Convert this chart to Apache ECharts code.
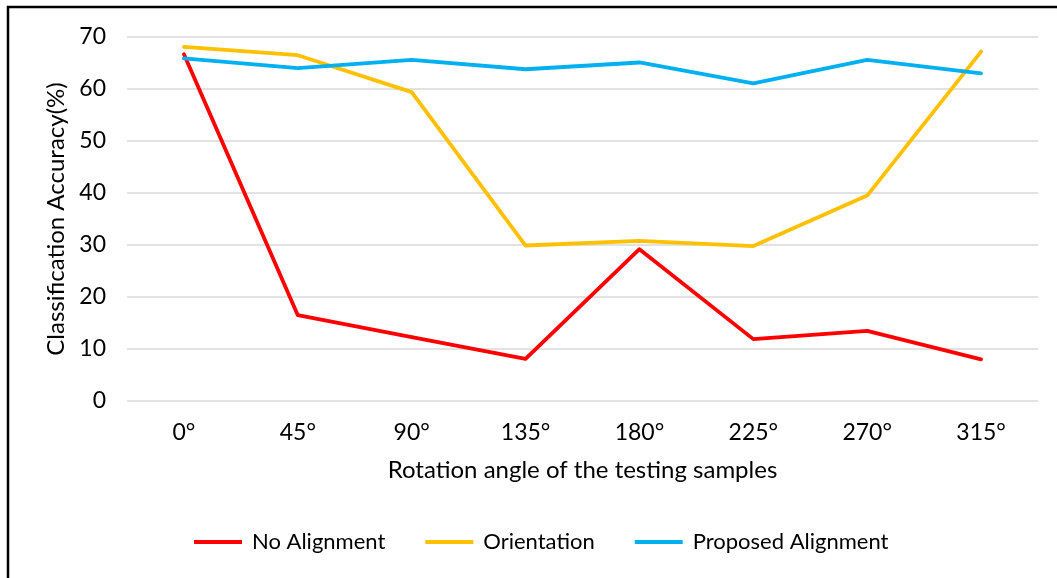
<!DOCTYPE html>
<html><head><meta charset="utf-8">
<script src="https://cdn.jsdelivr.net/npm/echarts@6/dist/echarts.min.js"></script>
<style>html,body{margin:0;padding:0;background:#fff}#c{width:1057px;height:578px}</style>
</head><body><div id="c"></div>
<script>
const categories = ['0°','45°','90°','135°','180°','225°','270°','315°'];
const noAlignment = [66.7, 16.5, 12.3, 8.1, 29.2, 11.9, 13.5, 8.0];
const orientation = [68.1, 66.5, 59.4, 29.9, 30.8, 29.8, 39.5, 67.2];
const proposed = [65.9, 64.0, 65.6, 63.8, 65.1, 61.1, 65.6, 63.0];
const yTicks = [0, 10, 20, 30, 40, 50, 60, 70];

const font = 'Lato';
const chart = echarts.init(document.getElementById('c'), null, {renderer:'canvas'});
const mk = (name, data, color) => ({
  name, type:'line', data, symbol:'none', smooth:false,
  lineStyle:{color, width:3.8, cap:'round', join:'round'}, itemStyle:{color}
});
chart.setOption({
  animation:false,
  backgroundColor:'#fff',
  textStyle:{fontFamily:font},
  graphic:[{type:'rect', shape:{x:8, y:7, width:1200, height:700}, style:{fill:'none', stroke:'#000', lineWidth:2.5}, silent:true}],
  grid:{left:127, right:19, top:37, bottom:177},
  xAxis:{type:'category', data:categories, boundaryGap:true,
    axisLine:{show:false}, axisTick:{show:false},
    axisLabel:{color:'#000', fontSize:23, fontFamily:font, margin:20},
    name:'Rotation angle of the testing samples', nameLocation:'middle', nameGap:57,
    nameTextStyle:{color:'#000', fontSize:24, fontFamily:font}},
  yAxis:{type:'value', min:yTicks[0], max:yTicks[yTicks.length-1], interval:10,
    axisLine:{show:false}, axisTick:{show:false},
    splitLine:{lineStyle:{color:'#D9D9D9', width:1.5}},
    axisLabel:{color:'#000', fontSize:23, fontFamily:font, margin:21},
    name:'Classification Accuracy(%)', nameLocation:'middle', nameGap:53, nameRotate:90,
    nameTextStyle:{color:'#000', fontSize:24, fontFamily:font}},
  legend:{bottom:20, left:189, icon:'rect', itemWidth:48, itemHeight:4, itemGap:40,
    textStyle:{color:'#000', fontSize:22, fontFamily:font, padding:[0,0,0,5]},
    data:['No Alignment','Orientation','Proposed Alignment']},
  series:[mk('No Alignment', noAlignment, '#FF0000'), mk('Orientation', orientation, '#FFC000'), mk('Proposed Alignment', proposed, '#00B0F0')]
});
</script></body></html>
